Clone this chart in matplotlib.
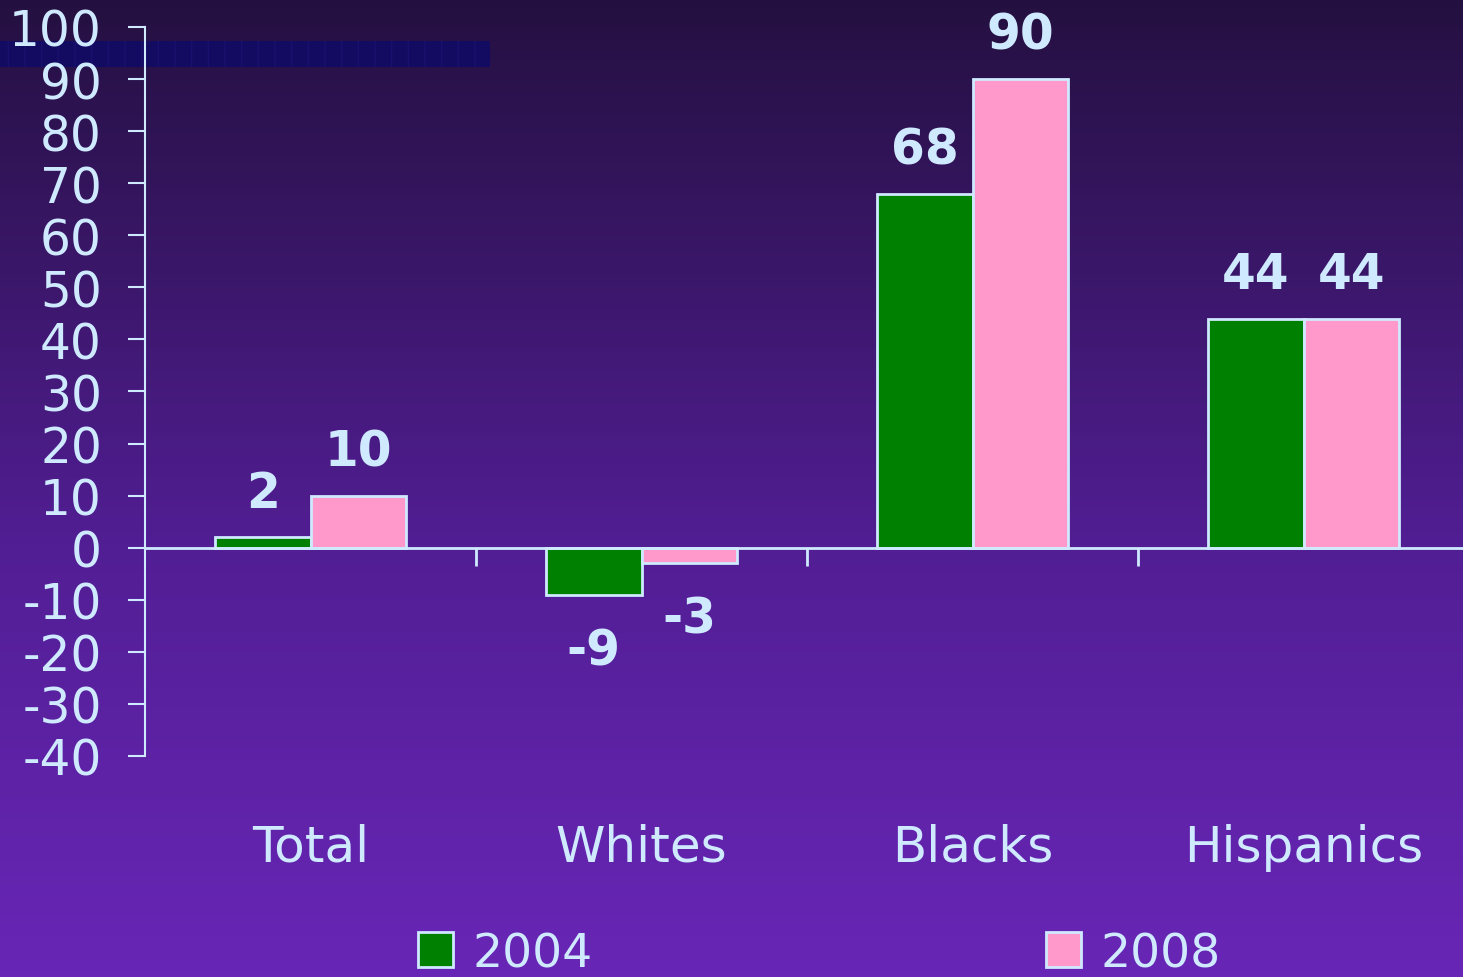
import numpy as np
import matplotlib
matplotlib.use('Agg')
import matplotlib.pyplot as plt
from matplotlib.colors import LinearSegmentedColormap
from matplotlib.patches import Rectangle

categories = ['Total', 'Whites', 'Blacks', 'Hispanics']
series_names = ['2004', '2008']
values_2004 = [2, -9, 68, 44]
values_2008 = [10, -3, 90, 44]
y_ticks = list(range(-40, 101, 10))

txt = '#cfeaff'
green = '#008000'
pink = '#ff99cc'

plt.rcParams['font.family'] = ['DejaVu Sans']

fig = plt.figure(figsize=(14.63, 9.78), dpi=100)

# gradient background
bg = fig.add_axes([0, 0, 1, 1], zorder=-10)
cmap = LinearSegmentedColormap.from_list(
    'bg', [(0, (36/255, 16/255, 64/255)), (0.56, (82/255, 30/255, 148/255)),
           (1, (104/255, 38/255, 182/255))])
grad = np.linspace(0, 1, 256).reshape(-1, 1)
bg.imshow(grad, aspect='auto', cmap=cmap, extent=[0, 1, 0, 1], origin='upper')
bg.axis('off')

# decorative band top-left
fig.patches.append(Rectangle((0, 0.9305), 0.335, 0.0266, transform=fig.transFigure,
                             facecolor='#130a62', edgecolor='#1a106e', hatch='|',
                             linewidth=0, zorder=-5))

ax = fig.add_axes([145/1463, 0.226, 1324/1463, 0.7454])
ax.set_facecolor('none')

x = np.arange(len(categories))
w = 0.288
b1 = ax.bar(x - w/2, values_2004, w, color=green, edgecolor=txt, linewidth=2, label=series_names[0], zorder=3)
b2 = ax.bar(x + w/2, values_2008, w, color=pink, edgecolor=txt, linewidth=2, label=series_names[1], zorder=3)

for bars, vals in ((b1, values_2004), (b2, values_2008)):
    for rect, v in zip(bars, vals):
        cx = rect.get_x() + rect.get_width()/2
        off = 32 if v >= 0 else -40
        ax.annotate(str(v), (cx, v), xytext=(0, off), textcoords='offset points',
                    ha='center', va='center', fontsize=35, fontweight='bold', color=txt)

ax.set_xlim(-0.5, len(categories) - 0.5)
ax.set_ylim(-40, 100)
ax.axhline(0, color=txt, lw=2, zorder=4)
ax.vlines(x[:-1] + 0.5, -3.6, 0, color=txt, lw=2)

ax.set_yticks(y_ticks)
ax.set_yticklabels([str(t) for t in y_ticks])
ax.tick_params(axis='y', colors=txt, labelcolor=txt, labelsize=35, length=12, width=1.5, pad=19)
ax.set_xticks(x)
ax.set_xticklabels(categories)
ax.tick_params(axis='x', length=0, labelsize=36, labelcolor=txt, pad=48)

for s in ['top', 'right', 'bottom']:
    ax.spines[s].set_visible(False)
ax.spines['left'].set_color(txt)
ax.spines['left'].set_linewidth(1.5)

fig.legend(handles=[b1, b2], loc='center', bbox_to_anchor=(0.56, 0.024), ncol=2,
           frameon=False, fontsize=34, labelcolor=txt, handlelength=0.74,
           handleheight=0.74, handletextpad=0.42, columnspacing=9.6, borderpad=0)

fig.savefig('out.png', dpi=100)
